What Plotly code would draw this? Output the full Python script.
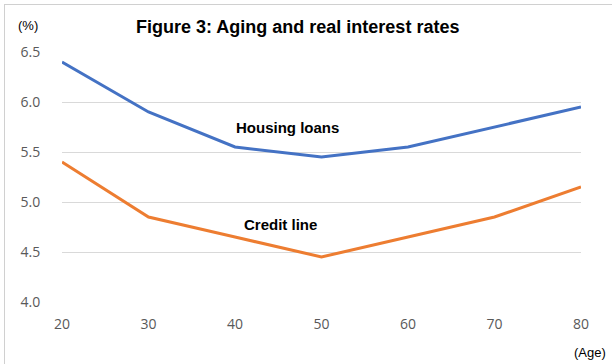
import plotly.graph_objects as go

ages = [20, 30, 40, 50, 60, 70, 80]
housing_loans = [6.4, 5.9, 5.55, 5.45, 5.55, 5.75, 5.95]
credit_line = [5.4, 4.85, 4.65, 4.45, 4.65, 4.85, 5.15]
y_ticks = [4.0, 4.5, 5.0, 5.5, 6.0, 6.5]
x_ticks = [20, 30, 40, 50, 60, 70, 80]

fig = go.Figure()
fig.add_trace(go.Scatter(x=ages, y=housing_loans, mode="lines",
                         line=dict(color="#4472C4", width=3), name="Housing loans"))
fig.add_trace(go.Scatter(x=ages, y=credit_line, mode="lines",
                         line=dict(color="#ED7D31", width=3), name="Credit line"))

tickfont = dict(family="Open Sans, Noto Sans, sans-serif", size=14, color="#595959")
fig.update_layout(
    width=612, height=364,
    margin=dict(l=62, r=31, t=52, b=62),
    paper_bgcolor="white", plot_bgcolor="white",
    showlegend=False,
    xaxis=dict(range=[20, 80], tickvals=x_ticks, ticktext=[str(v) for v in x_ticks],
               showgrid=False, zeroline=False, showline=False,
               ticks="outside", ticklen=9, tickcolor="rgba(0,0,0,0)",
               tickfont=tickfont),
    yaxis=dict(range=[4.0, 6.5], tickvals=y_ticks, ticktext=[f"{v:.1f}" for v in y_ticks],
               showgrid=True, gridcolor="#D9D9D9", gridwidth=1, zeroline=False, showline=False,
               ticks="outside", ticklen=18, tickcolor="rgba(0,0,0,0)",
               tickfont=tickfont),
)

fig.add_annotation(text="<b>Figure 3: Aging and real interest rates</b>", xref="paper", yref="paper",
                   x=(297 - 62) / 519, y=1 + (52 - 27) / 250, showarrow=False,
                   font=dict(family="Liberation Sans, Arial", size=18, color="black"),
                   xanchor="center", yanchor="middle")
fig.add_annotation(text="(%)", xref="paper", yref="paper",
                   x=(27.5 - 62) / 519, y=1 + (52 - 26) / 250, showarrow=False,
                   font=dict(family="Liberation Sans, Arial", size=13, color="black"),
                   xanchor="center", yanchor="middle")
fig.add_annotation(text="(Age)", xref="paper", yref="paper",
                   x=(590 - 62) / 519, y=-(352 - 302) / 250, showarrow=False,
                   font=dict(family="Liberation Sans, Arial", size=13, color="black"),
                   xanchor="center", yanchor="middle")
fig.add_annotation(text="<b>Housing loans</b>", x=46.1, y=5.75, showarrow=False,
                   font=dict(family="Liberation Sans, Arial", size=15, color="black"),
                   xanchor="center", yanchor="middle")
fig.add_annotation(text="<b>Credit line</b>", x=45.3, y=4.78, showarrow=False,
                   font=dict(family="Liberation Sans, Arial", size=15, color="black"),
                   xanchor="center", yanchor="middle")

# outer frame (top and left edges)
fig.add_shape(type="line", xref="paper", yref="paper",
              x0=(4 - 62) / 519, x1=1 + 31 / 519, y0=1 + (52 - 4.5) / 250, y1=1 + (52 - 4.5) / 250,
              line=dict(color="#D0D0D0", width=1))
fig.add_shape(type="line", xref="paper", yref="paper",
              x0=(4.5 - 62) / 519, x1=(4.5 - 62) / 519, y0=-62 / 250, y1=1 + (52 - 4.5) / 250,
              line=dict(color="#D0D0D0", width=1))

fig.write_html("out.html", config={"displayModeBar": False},
               post_script="document.body.style.margin='0px';document.body.style.padding='0px';")
